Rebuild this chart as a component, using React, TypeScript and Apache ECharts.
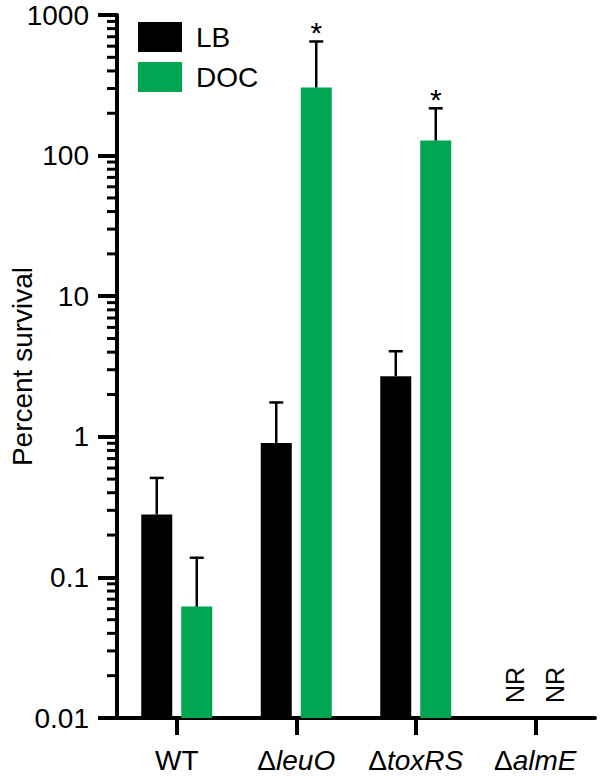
import React, { useEffect, useRef } from 'react';
import * as echarts from 'echarts';

const categories = ['WT', 'ΔleuO', 'ΔtoxRS', 'ΔalmE'];
const seriesNames = ['LB', 'DOC'];
const lbMean: (number | null)[] = [0.28, 0.905, 2.7, null];
const lbSD: (number | null)[] = [0.23, 0.85, 1.36, null];
const docMean: (number | null)[] = [0.062, 305, 128, null];
const docSD: (number | null)[] = [0.076, 343, 89, null];
const lbSignificant = [false, false, false, false];
const docSignificant = [false, true, true, false];
const notReported = [false, false, false, true];
const yTickLabels = ['0.01', '0.1', '1', '10', '100', '1000'];
const minorMultipliers = [2, 3, 4, 5, 6, 7, 8, 9];
const decadeStarts = [0.01, 0.1, 1, 10, 100];

const FONT = "'Liberation Sans', Arial, Helvetica, sans-serif";
const GREEN = '#00a651';
const BAR_W = 31;
const BAR_GAP = 0.29;
const OFFSET = (BAR_W * (1 + BAR_GAP)) / 2;
const GRID_LEFT = 117;

export default function App() {
  const ref = useRef<HTMLDivElement>(null);
  useEffect(() => {
    if (!ref.current) return;
    const chart = echarts.init(ref.current, undefined, { renderer: 'svg' });
    const means = [lbMean, docMean];
    const sds = [lbSD, docSD];
    const sig = [lbSignificant, docSignificant];
    const errData: any[] = [];
    for (let s = 0; s < 2; s++) {
      for (let c = 0; c < categories.length; c++) {
        const m = means[s][c];
        const sd = sds[s][c];
        if (m != null && sd != null) errData.push([c, m, m + sd, s, sig[s][c] ? 1 : 0]);
      }
    }
    const nrData: any[] = [];
    for (let c = 0; c < categories.length; c++) {
      if (notReported[c]) {
        nrData.push([c, 0.01, 0]);
        nrData.push([c, 0.01, 1]);
      }
    }
    const minorData: any[] = [];
    decadeStarts.forEach((d) => minorMultipliers.forEach((k) => minorData.push([0, +(d * k).toPrecision(3)])));

    const option: any = {
      animation: false,
      textStyle: { fontFamily: FONT },
      grid: { left: GRID_LEFT, right: 5, top: 15, bottom: 65, containLabel: false, outerBoundsMode: 'none' },
      legend: {
        orient: 'vertical',
        left: 133,
        top: 17,
        itemWidth: 44,
        itemHeight: 30,
        itemGap: 10,
        icon: 'rect',
        data: seriesNames,
        textStyle: { fontSize: 28, color: '#000', fontFamily: FONT, padding: [0, 0, 0, 9] },
      },
      xAxis: {
        type: 'category',
        data: categories,
        axisLine: { show: true, lineStyle: { color: '#000', width: 4 } },
        axisTick: { show: true, alignWithLabel: true, length: 17, lineStyle: { color: '#000', width: 4 } },
        axisLabel: {
          interval: 0,
          margin: 28,
          fontSize: 28,
          color: '#000',
          fontFamily: FONT,
          formatter: (v: string) => (v.startsWith('Δ') ? `{d|Δ}{i|${v.slice(1)}}` : v),
          rich: {
            d: { fontSize: 28, fontFamily: FONT, color: '#000' },
            i: { fontSize: 28, fontFamily: FONT, fontStyle: 'italic', color: '#000' },
          },
        },
        splitLine: { show: false },
      },
      yAxis: {
        type: 'log',
        logBase: 10,
        min: 0.01,
        max: 1000,
        startValue: 0.01,
        splitNumber: 5,
        name: 'Percent survival',
        nameLocation: 'middle',
        nameGap: 81,
        nameMoveOverlap: false,
        nameTextStyle: { fontSize: 28, color: '#000', fontFamily: FONT },
        axisLine: { show: true, lineStyle: { color: '#000', width: 4 } },
        axisTick: { show: true, length: 19, lineStyle: { color: '#000', width: 4 } },
        axisLabel: {
          margin: 28,
          fontSize: 28,
          color: '#000',
          fontFamily: FONT,
          formatter: (v: number) => {
            const idx = Math.round(Math.log10(v)) + 2;
            return yTickLabels[idx] ?? String(v);
          },
        },
        splitLine: { show: false },
      },
      series: [
        {
          name: seriesNames[0],
          type: 'bar',
          data: lbMean.map((v) => (v == null ? '-' : v)),
          barWidth: BAR_W,
          barGap: BAR_GAP * 100 + '%',
          itemStyle: { color: '#000' },
        },
        {
          name: seriesNames[1],
          type: 'bar',
          data: docMean.map((v) => (v == null ? '-' : v)),
          barWidth: BAR_W,
          barGap: BAR_GAP * 100 + '%',
          itemStyle: { color: GREEN },
        },
        {
          type: 'custom',
          clip: false,
          z: 5,
          data: errData,
          encode: { x: 0, y: 1 },
          renderItem: (params: any, api: any) => {
            const c = api.value(0);
            const m = api.value(1);
            const up = api.value(2);
            const s = api.value(3);
            const star = api.value(4);
            const p0 = api.coord([c, m]);
            const p1 = api.coord([c, up]);
            const x = p0[0] + (s === 0 ? -OFFSET : OFFSET);
            const children: any[] = [
              { type: 'line', shape: { x1: x, y1: p0[1], x2: x, y2: p1[1] }, style: { stroke: '#000', lineWidth: 2.5 } },
              { type: 'line', shape: { x1: x - 7, y1: p1[1], x2: x + 7, y2: p1[1] }, style: { stroke: '#000', lineWidth: 2.5 } },
            ];
            if (star) {
              children.push({
                type: 'text',
                x,
                y: p1[1] + 6,
                style: { text: '*', fontSize: 30, fontFamily: FONT, fill: '#000', align: 'center', verticalAlign: 'bottom' },
              });
            }
            return { type: 'group', children };
          },
        },
        {
          type: 'custom',
          clip: false,
          z: 5,
          data: nrData,
          encode: { x: 0, y: 1 },
          renderItem: (params: any, api: any) => {
            const c = api.value(0);
            const s = api.value(2);
            const p = api.coord([c, api.value(1)]);
            const x = p[0] + (s === 0 ? -OFFSET : OFFSET);
            return {
              type: 'text',
              x,
              y: p[1] - 15,
              rotation: Math.PI / 2,
              style: { text: 'NR', fontSize: 25, fontFamily: FONT, fill: '#000', align: 'left', verticalAlign: 'middle' },
            };
          },
        },
        {
          type: 'custom',
          clip: false,
          z: 20,
          data: minorData,
          encode: { x: 0, y: 1 },
          renderItem: (params: any, api: any) => {
            const p0 = api.coord([0, api.value(1)]);
            const p1 = api.coord([1, api.value(1)]);
            const x0 = p0[0] - (p1[0] - p0[0]) / 2;
            return {
              type: 'rect',
              shape: { x: x0 - 10, y: p0[1] - 1.5, width: 10, height: 3 },
              style: { fill: '#000' },
            };
          },
        },
      ],
    };
    chart.setOption(option);
    return () => chart.dispose();
  }, []);
  return <div ref={ref} style={{ position: 'fixed', left: 0, top: 0, width: 600, height: 783, background: '#fff' }} />;
}
